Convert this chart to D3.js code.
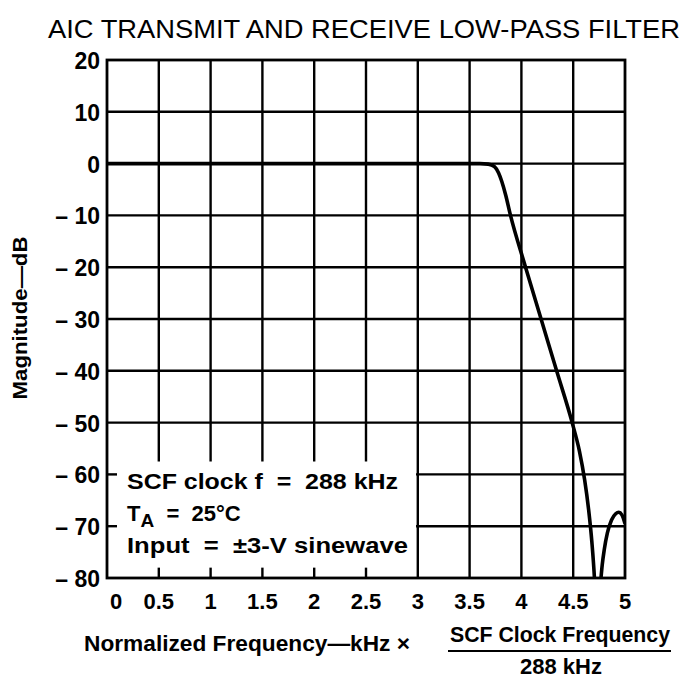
<!DOCTYPE html>
<html><head><meta charset="utf-8">
<script src="https://cdn.jsdelivr.net/npm/d3@7"></script>
<style>body{margin:0;background:#fff}svg{display:block}text{font-family:"Liberation Sans",Arial,sans-serif;fill:#000}</style>
</head><body>
<svg id="c" width="685" height="679"></svg>
<script>
const xTicks = [0,0.5,1,1.5,2,2.5,3,3.5,4,4.5,5];
const xTickLabels = ["0","0.5","1","1.5","2","2.5","3","3.5","4","4.5","5"];
const yTicks = [20,10,0,-10,-20,-30,-40,-50,-60,-70,-80];
const yTickLabels = ["20","10","0","\u2013 10","\u2013 20","\u2013 30","\u2013 40","\u2013 50","\u2013 60","\u2013 70","\u2013 80"];
const mainFreq = [0,1,2,3,3.5,3.6,3.68,3.74,3.78,3.81,3.85,3.89,4.04,4.19,4.34,4.49,4.56,4.61,4.65,4.68,4.705,4.715];
const mainMag  = [0,0,0,0,0,0,-0.1,-0.6,-1.8,-3.4,-6.2,-9.6,-20,-30,-40,-50,-55.5,-61,-67,-73,-80,-84];
const sideFreq = [4.76,4.78,4.80,4.83,4.87,4.91,4.94,4.97,5.0];
const sideMag  = [-82,-77.5,-74.5,-71.3,-68.8,-67.6,-67.3,-67.8,-69.5];
const legendLines = ["SCF clock f  =  288 kHz","T","A","  =  25\u00b0C","Input  =  \u00b13-V sinewave"];

const svg = d3.select("#c");
const L=107, R=625, T=60, B=578;
const x = d3.scaleLinear().domain([0,5]).range([L,R]);
const y = d3.scaleLinear().domain([-80,20]).range([B,T]);

const boxX1 = 416, boxY1 = y(-57.5), boxY2 = y(-78);
const g = svg.append("g").attr("stroke","#000").attr("stroke-width",2.4).attr("fill","none");
xTicks.forEach(v=>{
  if(v===0||v===5) return;
  if(x(v) < boxX1){
    g.append("line").attr("x1",x(v)).attr("x2",x(v)).attr("y1",T).attr("y2",boxY1);
    g.append("line").attr("x1",x(v)).attr("x2",x(v)).attr("y1",boxY2).attr("y2",B);
  } else {
    g.append("line").attr("x1",x(v)).attr("x2",x(v)).attr("y1",T).attr("y2",B);
  }
});
yTicks.forEach(v=>{
  if(v===20||v===-80) return;
  if(y(v) > boxY1 && y(v) < boxY2){
    g.append("line").attr("x1",L).attr("x2",L+10).attr("y1",y(v)).attr("y2",y(v));
    g.append("line").attr("x1",boxX1).attr("x2",R).attr("y1",y(v)).attr("y2",y(v));
  } else {
    g.append("line").attr("x1",L).attr("x2",R).attr("y1",y(v)).attr("y2",y(v));
  }
});
g.append("rect").attr("x",L).attr("y",T).attr("width",R-L).attr("height",B-T).attr("stroke-width",2.8);

const line = d3.line().x(d=>x(d[0])).y(d=>y(d[1])).curve(d3.curveMonotoneX);
svg.append("clipPath").attr("id","pc").append("rect").attr("x",L).attr("y",T).attr("width",R-L).attr("height",B-T);
const cg = svg.append("g").attr("clip-path","url(#pc)");
cg.append("path").datum(mainFreq.map((f,i)=>[f,mainMag[i]])).attr("d",line).attr("fill","none").attr("stroke","#000").attr("stroke-width",3.6);
cg.append("path").datum(sideFreq.map((f,i)=>[f,sideMag[i]])).attr("d",line).attr("fill","none").attr("stroke","#000").attr("stroke-width",3.6);

svg.append("g").selectAll("text").data(yTicks).join("text")
  .attr("x",100).attr("y",d=>y(d)+9).attr("text-anchor","end").attr("xml:space","preserve")
  .attr("font-size",23).attr("font-weight","bold").text((d,i)=>yTickLabels[i]);
svg.append("g").selectAll("text").data(xTicks).join("text")
  .attr("x",d=>x(d)+(d===0?9:0)).attr("y",609).attr("text-anchor","middle")
  .attr("font-size",22).attr("font-weight","bold").text((d,i)=>xTickLabels[i]);

svg.append("text").attr("x",48).attr("y",38).attr("font-size",25)
  .attr("textLength",632).attr("lengthAdjust","spacingAndGlyphs")
  .text("AIC TRANSMIT AND RECEIVE LOW-PASS FILTER");

svg.append("text").attr("transform","translate(27,318) rotate(-90)").attr("text-anchor","middle")
  .attr("font-size",20).attr("font-weight","bold")
  .attr("textLength",163).attr("lengthAdjust","spacingAndGlyphs").text("Magnitude\u2014dB");

const lg = svg.append("g").attr("font-size",22).attr("font-weight","bold");
lg.append("text").attr("x",127).attr("y",489).attr("xml:space","preserve")
  .attr("textLength",271).attr("lengthAdjust","spacingAndGlyphs").text(legendLines[0]);
const t2 = lg.append("text").attr("x",127).attr("y",521).attr("xml:space","preserve");
t2.append("tspan").text(legendLines[1]);
t2.append("tspan").attr("dy",6).attr("font-size",19).text(legendLines[2]);
t2.append("tspan").attr("dy",-6).text(legendLines[3]);
lg.append("text").attr("x",127).attr("y",553).attr("xml:space","preserve")
  .attr("textLength",281).attr("lengthAdjust","spacingAndGlyphs").text(legendLines[4]);

const xt = svg.append("g").attr("font-size",22).attr("font-weight","bold");
xt.append("text").attr("x",84).attr("y",651)
  .attr("textLength",326).attr("lengthAdjust","spacingAndGlyphs").text("Normalized Frequency\u2014kHz \u00d7");
xt.append("text").attr("x",450).attr("y",642)
  .attr("textLength",220).attr("lengthAdjust","spacingAndGlyphs").text("SCF Clock Frequency");
xt.append("line").attr("x1",448).attr("x2",671).attr("y1",651).attr("y2",651).attr("stroke","#000").attr("stroke-width",2);
xt.append("text").attr("x",561).attr("y",674).attr("text-anchor","middle").text("288 kHz");
</script>
</body></html>
